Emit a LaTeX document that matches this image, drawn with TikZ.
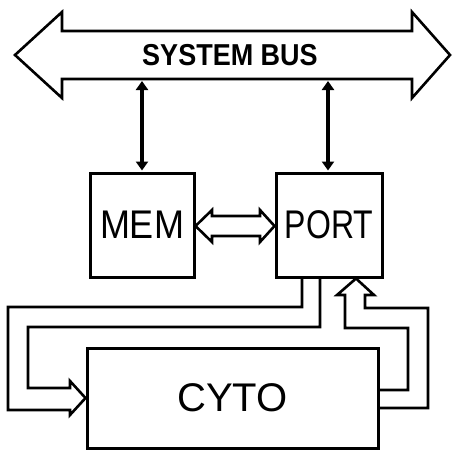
\documentclass[tikz,border=0pt]{standalone}
\usepackage{fontspec}
\setmainfont{Liberation Sans}
\usetikzlibrary{arrows.meta}
\begin{document}
\begin{tikzpicture}[x=1pt,y=-1pt,
  box/.style={draw=black,line width=3pt,inner sep=0pt,fill=white},
  boxtext/.style={font=\fontsize{40}{40}\selectfont},
  hollow/.style={draw=black,line width=2.6pt,line join=miter,fill=white},
  thinbus/.style={draw=black,line width=4.5pt,{Triangle[width=12pt,length=9pt]}-{Triangle[width=12pt,length=9pt]},shorten <=1pt,shorten >=1pt}]
\useasboundingbox (0,0) rectangle (454,452);
% system bus
\draw[hollow] (15,55) -- (62,12) -- (62,31) -- (412,31) -- (412,12) -- (450,55) -- (412,98) -- (412,79) -- (62,79) -- (62,98) -- cycle;
\node[font=\bfseries\fontsize{27}{27}\selectfont,yscale=1.12] (bus) at (230,55) {SYSTEM BUS};
\coordinate (busmem) at (142,80);
\coordinate (busport) at (328,80);
% boxes
\node[box,minimum width=104pt,minimum height=104pt] (mem) at (142,225) {};
\node[boxtext,xscale=0.9] at (mem.center) {MEM};
\node[box,minimum width=106pt,minimum height=104pt] (port) at (329,225) {};
\node[boxtext,xscale=0.8] at (port.center) {PORT};
\node[box,minimum width=291pt,minimum height=100pt] (cyto) at (232.5,398) {};
\node[boxtext] at (cyto.center) {CYTO};
% bus connections
\draw[thinbus] (busmem) -- (mem.north);
\draw[thinbus] (busport) -- (port.north -| busport);
% MEM <-> PORT hollow double arrow
\draw[hollow] (mem.east |- 0,226) -- (212,210) -- (212,216) -- (260,216) -- (260,210) -- (port.west |- 0,226) -- (260,242) -- (260,236) -- (212,236) -- (212,242) -- cycle;
% PORT -> CYTO loop
\draw[hollow,fill=none] (port.south -| 320,0) -- (320,327) -- (28,327) -- (28,388) -- (70,388) -- (70,381) -- (cyto.west |- 0,398) -- (70,415) -- (70,410) -- (8,410) -- (8,307) -- (302,307) -- (port.south -| 302,0);
% CYTO -> PORT loop
\draw[hollow,fill=none] (cyto.east |- 0,390) -- (408,390) -- (408,328) -- (345,328) -- (345,295) -- (337,295) -- (port.south -| 356,0) -- (374,295) -- (365,295) -- (365,308) -- (428,308) -- (428,408) -- (cyto.east |- 0,408);
\end{tikzpicture}
\end{document}
